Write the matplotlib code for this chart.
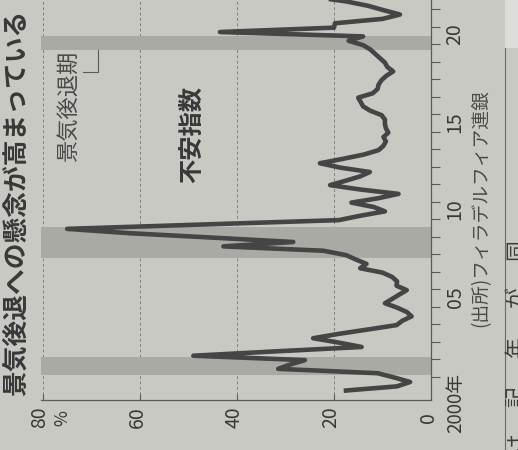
import numpy as np
import matplotlib.pyplot as plt
import matplotlib.transforms as mtransforms
from matplotlib.lines import Line2D
from matplotlib.patches import Rectangle

plt.rcParams['font.family'] = ['Noto Sans CJK JP', 'DejaVu Sans']

# 不安指数 (%), 四半期ごと 2000年から
anxious = [18, 7, 4.3, 7.5, 11, 31.5, 29, 26, 49, 32,
           14.3, 19, 24.3, 19, 13, 7.1, 5.9, 4.0, 5.0, 7.0,
           9.5, 8.0, 6.5, 5.0, 7.1, 7.0, 8.0, 10.0, 14.6, 13.3,
           15.5, 17.5, 22.2, 42.8, 28.4, 45, 62, 75, 47, 19,
           14.6, 9.5, 11.8, 16.4, 10.9, 6.7, 14.6, 20.8, 17.6, 14.6,
           12.6, 18.7, 22.9, 18.2, 13.8, 10.8, 9.8, 9.3, 9.8, 8.8,
           9.3, 9.5, 9.5, 10.2, 12.5, 14, 14.5, 15, 12, 11,
           10.8, 10.2, 9.2, 7.8, 9, 9.5, 10.5, 11.5, 12.5, 14,
           17, 14, 43.5, 20, 19.8, 10, 6.4, 9.8, 13, 17.5,
           24]
quarters = 2000.2 + 0.25 * np.arange(len(anxious))

# 景気後退期
recessions = [(2001.1, 2002.15), (2007.8, 2009.55), (2019.68, 2020.5)]

value_ticks = [0, 20, 40, 60]
grid_values = [20, 40, 60, 80]
year_ticks = list(range(2001, 2023))
year_labels = ['05', '10', '15', '20']
year_label_pos = [2005.55, 2010.55, 2015.55, 2020.6]

# 隣の記事の文字 (右端で切れている)
next_chars = ['は', '記', '年', 'が', '同']
next_char_y = [442, 397, 347, 297, 250]

paper = '#c9c9c4'
ink = '#383838'
W, H = 518, 450

fig = plt.figure(figsize=(W / 100, H / 100), dpi=100)
fig.patch.set_facecolor(paper)
ax = fig.add_axes([41 / W, 1 - 400 / H, 390 / W, 400 / H])
ax.set_facecolor('none')
ax.set_xlim(80.4, 0)
ax.set_ylim(1999.67, 2022.53)

for a, b in recessions:
    ax.axhspan(a, b, color='#aaaaa5', lw=0, zorder=1)
for v in grid_values:
    ax.axvline(v, color='#808080', lw=0.7, ls=(0, (3, 2.5)), zorder=0.5)

ax.plot(anxious, quarters, color='#454545', lw=3.3, zorder=3,
        solid_joinstyle='round', solid_capstyle='butt')

for side in ['top', 'left']:
    ax.spines[side].set_visible(False)
for side in ['right', 'bottom']:
    ax.spines[side].set_color('#5a5a5a')
    ax.spines[side].set_linewidth(0.9)

ax.set_xticks(grid_values)
ax.tick_params(axis='x', direction='in', length=4, width=0.8, color='#5a5a5a',
               labelbottom=False)
ax.yaxis.tick_right()
ax.set_yticks(year_ticks)
ax.tick_params(axis='y', direction='out', length=6.5, width=0.8, color='#5a5a5a',
               labelright=False)

# 目盛りの文字 (縦書き向きに回転)
below = mtransforms.blended_transform_factory(ax.transData, ax.transAxes)
for v in value_ticks:
    ax.text(v + 0.6, -0.044, str(v), transform=below, rotation=90,
            ha='center', va='center', fontsize=14, color=ink)
ax.text(80.6, -0.044, '80', transform=below, rotation=90,
        ha='center', va='center', fontsize=14, color=ink)
ax.text(76.0, -0.044, '%', transform=below, rotation=90,
        ha='center', va='center', fontsize=12.5, color=ink)

right = mtransforms.blended_transform_factory(ax.transAxes, ax.transData)
for pos, lab in zip(year_label_pos, year_labels):
    ax.text(1.062, pos, lab, transform=right, rotation=90,
            ha='center', va='center', fontsize=14, color=ink)
ax.text(1.064, 1999.47, '2000年', transform=right, rotation=90,
        ha='center', va='center', fontsize=13.5, color=ink, clip_on=False)

ax.text(74.8, 2016.47, '景気後退期', rotation=90, ha='center', va='center',
        fontsize=16, color='#4a4a4a')
ax.plot([68.6, 68.6, 71.7], [2019.68, 2018.43, 2018.43], color='#5a5a5a', lw=0.8)
ax.text(49.3, 2014.87, '不安指数', rotation=90, ha='center', va='center',
        fontsize=17.5, fontweight='bold', color=ink)

fig.text(16 / W, 1 - 203 / H, '景気後退への懸念が高まっている', rotation=90,
         ha='center', va='center', fontsize=18.5, fontweight='bold', color=ink)
fig.text(481 / W, 1 - 208 / H, '(出所)フィラデルフィア連銀', rotation=90,
         ha='center', va='center', fontsize=13.5, color='#4a4a4a')

# 隣の段の区切り
fig.add_artist(Rectangle((505 / W, 1 - 48 / H), 13 / W, 48 / H,
                         transform=fig.transFigure, color='#dcdcd8', lw=0))
fig.add_artist(Line2D([505 / W, 505 / W], [0, 1 - 48 / H],
                      transform=fig.transFigure, color='#6a6a6a', lw=0.8))
for ch, y in zip(next_chars, next_char_y):
    fig.text(516 / W, 1 - y / H, ch, rotation=90, ha='center', va='center',
             fontsize=15, color='#3a3a3a')

fig.savefig('out.png', dpi=100, facecolor=fig.get_facecolor())
